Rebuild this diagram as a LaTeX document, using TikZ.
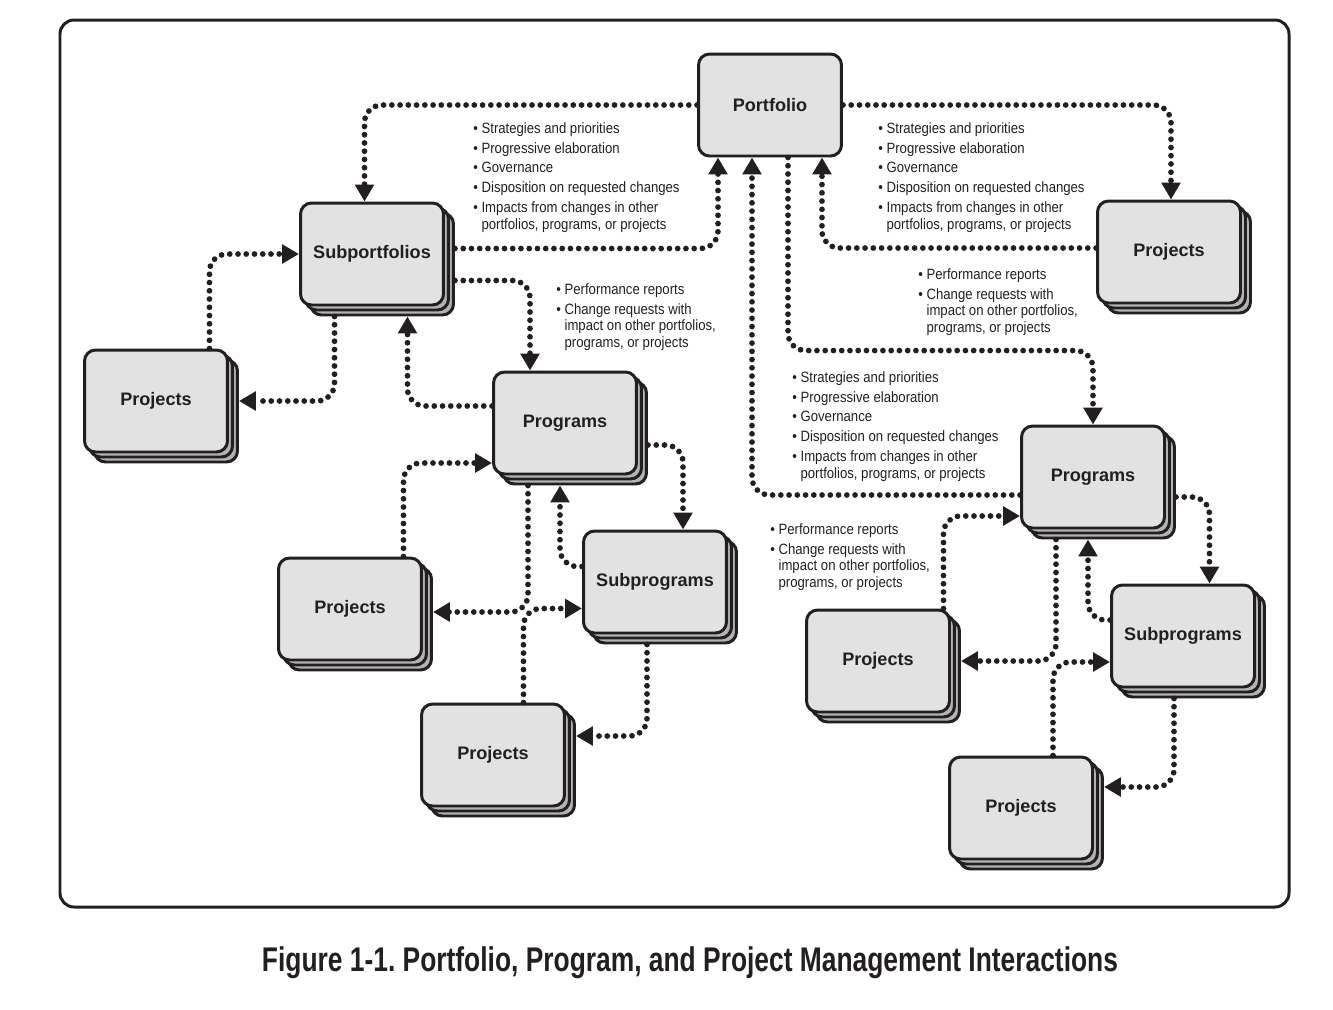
\documentclass[tikz,border=0pt]{standalone}
\usepackage{fontspec}
\setmainfont{Liberation Sans}
\newfontfamily\notefont[FakeStretch=0.88]{Liberation Sans}
\newfontfamily\captionfont[FakeStretch=0.77]{Liberation Sans}
\usetikzlibrary{arrows.meta,positioning,shadows}
\definecolor{boxgray}{HTML}{E2E2E2}
\definecolor{stackgray}{HTML}{B3B3B3}
\definecolor{ink}{HTML}{231F20}
\frenchspacing

\newcommand{\downlist}{\textbullet~Strategies and priorities\\[1.7pt]
\textbullet~Progressive elaboration\\[1.7pt]
\textbullet~Governance\\[1.7pt]
\textbullet~Disposition on requested changes\\[1.7pt]
\textbullet~Impacts from changes in other\\
\phantom{\textbullet~}portfolios, programs, or projects}
\newcommand{\uplist}{\textbullet~Performance reports\\[1.7pt]
\textbullet~Change requests with\\
\phantom{\textbullet~}impact on other portfolios,\\
\phantom{\textbullet~}programs, or projects}

\begin{document}
\begin{tikzpicture}[
    x=0.02cm, y=-0.02cm,
    every node/.style={text=ink},
    box/.style={draw=ink, line width=1.7pt, fill=boxgray, rounded corners=0.22cm, minimum width=2.86cm, minimum height=2.04cm, font=\bfseries\fontsize{10.3}{12}\selectfont},
    stacked/.style={box,
        copy shadow={shadow xshift=0.2cm, shadow yshift=-0.2cm, fill=stackgray, draw=ink, line width=1.7pt},
        copy shadow={shadow xshift=0.1cm, shadow yshift=-0.1cm, fill=stackgray, draw=ink, line width=1.7pt}},
    note/.style={anchor=north west, inner sep=0pt, align=left, font=\notefont\fontsize{8.5}{9.6}\selectfont},
    link/.style={-{Triangle[length=0.34cm, width=0.37cm]}, draw=ink, line width=0.115cm, line cap=round, dash pattern=on 0pt off 0.165cm, rounded corners=0.35cm}
]
\useasboundingbox (0,0) rectangle (1333,1009);
\draw[draw=ink, line width=1.7pt, rounded corners=0.28cm] (60,20) rectangle (1289,907);

% boxes
\node[box] (portfolio) at (770,105) {Portfolio};
\node[stacked] (subport) at (372,254) {Subportfolios};
\node[stacked] (projtop) at (1169,252) {Projects};
\node[stacked] (projleft) at (156,401) {Projects};
\node[stacked] (progleft) at (565,423) {Programs};
\node[stacked] (projmid) at (350,609) {Projects};
\node[stacked] (subprogleft) at (655,582) {Subprograms};
\node[stacked] (projlow) at (493,755) {Projects};
\node[stacked] (progright) at (1093,477) {Programs};
\node[stacked] (projright) at (878,661) {Projects};
\node[stacked] (subprogright) at (1183,636) {Subprograms};
\node[stacked] (projbottom) at (1021,808) {Projects};

% bullet lists
\node[note] (downleft) at (473,122) {\downlist};
\node[note] (downright) at (878,122) {\downlist};
\node[note] (downmid) at (792,371) {\downlist};
\node[note] (upleft) at (556,283) {\uplist};
\node[note] (upright) at (918,268) {\uplist};
\node[note] (upmid) at (770,523) {\uplist};

\node[font=\captionfont\bfseries\fontsize{19.5}{23}\selectfont] (caption) at (690,963) {Figure 1-1. Portfolio, Program, and Project Management Interactions};

% portfolio level
\draw[link] (portfolio.west) -| ([xshift=-0.15cm]subport.north);
\draw[link] ([xshift=0.2cm, yshift=0.11cm]subport.east) -| ([xshift=-1.04cm]portfolio.south);
\draw[link] (portfolio.east) -| ([xshift=0.04cm]projtop.north);
\draw[link] ([yshift=0.08cm]projtop.west) -| ([xshift=1.04cm]portfolio.south);
\draw[link] ([xshift=0.36cm]portfolio.south) |- ([yshift=1.48cm]progright.north) -- (progright.north);
\draw[link] ([yshift=-0.36cm]progright.west) -| ([xshift=-0.36cm]portfolio.south);

% subportfolio level
\draw[link] ([xshift=0.2cm, yshift=-0.53cm]subport.east) -| ([xshift=-0.7cm]progleft.north);
\draw[link] ([yshift=0.34cm]progleft.west) -| ([xshift=0.71cm, yshift=-0.2cm]subport.south);
\draw[link] ([xshift=-0.75cm, yshift=-0.2cm]subport.south) |- ([xshift=0.2cm]projleft.east);
\draw[link] ([xshift=1.07cm]projleft.north) |- (subport.west);

% left programs
\draw[link] ([xshift=0.2cm, yshift=-0.44cm]progleft.east) -| ([xshift=0.56cm]subprogleft.north);
\draw[link] ([yshift=0.31cm]subprogleft.west) -| ([xshift=-0.1cm, yshift=-0.2cm]progleft.south);
\draw[link] ([xshift=-0.74cm, yshift=-0.2cm]progleft.south) |- ([xshift=0.2cm, yshift=-0.06cm]projmid.east);
\draw[link] ([xshift=1.07cm]projmid.north) |- ([yshift=-0.8cm]progleft.west);
\draw[link] ([xshift=-0.16cm, yshift=-0.2cm]subprogleft.south) |- ([xshift=0.2cm, yshift=0.38cm]projlow.east);
\draw[link] ([xshift=0.61cm]projlow.north) |- ([yshift=-0.53cm]subprogleft.west);

% right programs
\draw[link] ([xshift=0.2cm, yshift=-0.4cm]progright.east) -| ([xshift=0.53cm]subprogright.north);
\draw[link] ([yshift=0.32cm]subprogright.west) -| ([xshift=-0.1cm, yshift=-0.2cm]progright.south);
\draw[link] ([xshift=-0.74cm, yshift=-0.2cm]progright.south) |- ([xshift=0.2cm]projright.east);
\draw[link] ([xshift=1.31cm]projright.north) |- ([yshift=-0.78cm]progright.west);
\draw[link] ([xshift=-0.18cm, yshift=-0.2cm]subprogright.south) |- ([xshift=0.2cm, yshift=0.42cm]projbottom.east);
\draw[link] ([xshift=0.64cm]projbottom.north) |- ([yshift=-0.52cm]subprogright.west);
\end{tikzpicture}
\end{document}
